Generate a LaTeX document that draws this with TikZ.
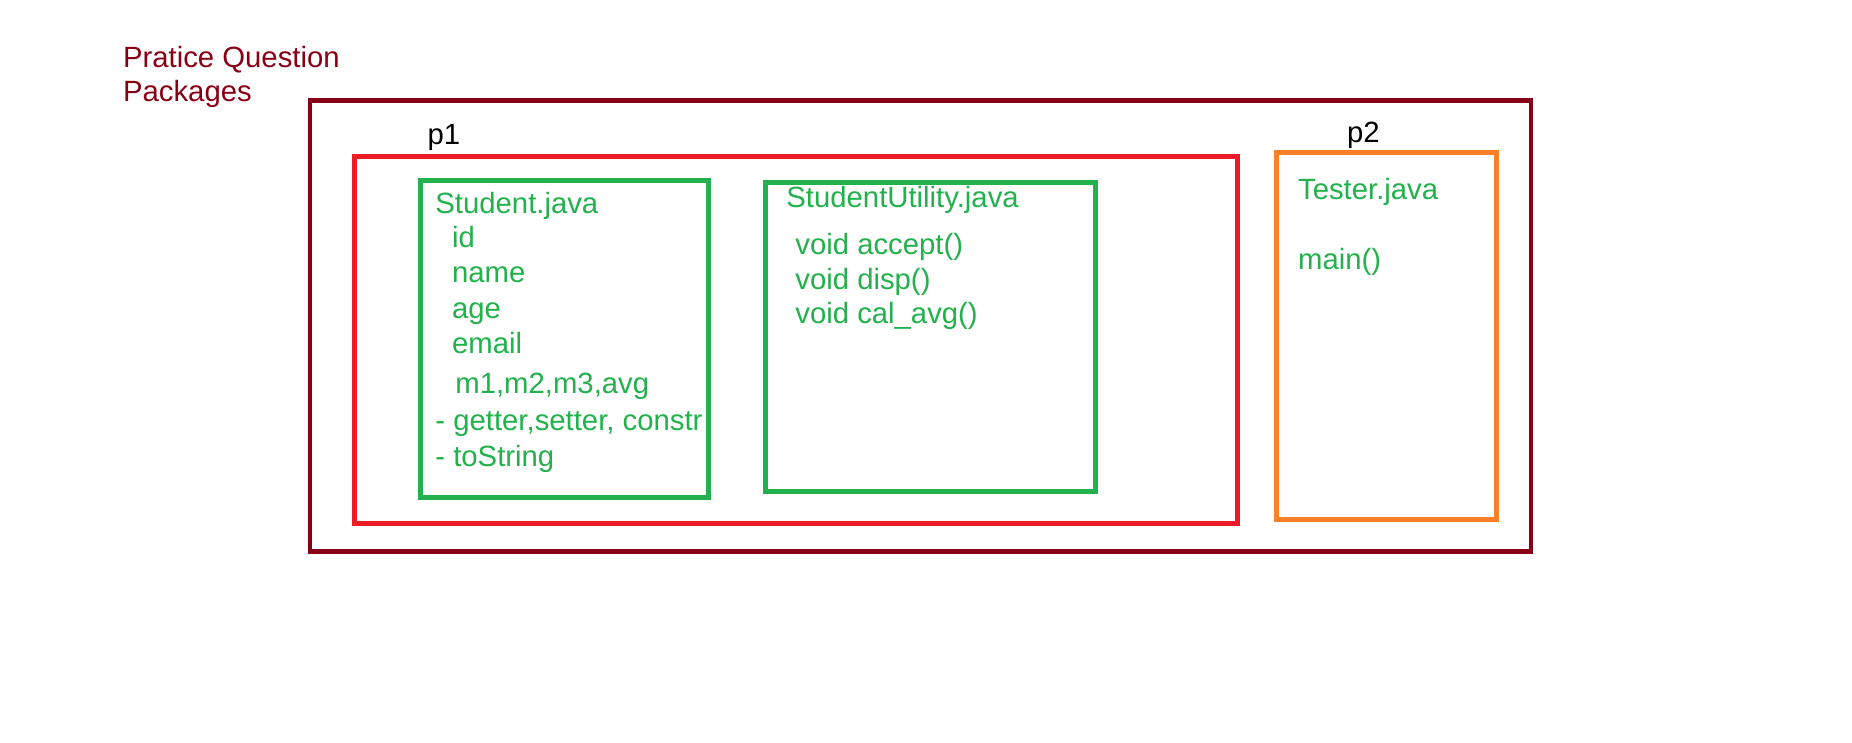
\documentclass[tikz,border=0pt]{standalone}
\usepackage{fontspec}
\setmainfont{Liberation Sans}
\definecolor{pkgdark}{RGB}{136,0,21}
\definecolor{pkgred}{RGB}{237,28,36}
\definecolor{pkggreen}{RGB}{34,177,76}
\definecolor{pkgorange}{RGB}{255,127,39}
\tikzset{
  outerbox/.style={draw=pkgdark,line width=2.35pt},
  redbox/.style={draw=pkgred,line width=2.35pt},
  greenbox/.style={draw=pkggreen,line width=2.5pt},
  orangebox/.style={draw=pkgorange,line width=2.5pt},
  lbl/.style={anchor=base west,inner sep=0pt,font=\fontsize{14.65pt}{17pt}\selectfont},
  gtxt/.style={lbl,text=pkggreen},
  ttxt/.style={lbl,text=pkgdark},
  ktxt/.style={lbl,text=black}
}
\begin{document}
\begin{tikzpicture}[x=0.5pt,y=-0.5pt]
\useasboundingbox[fill=white] (0,0) rectangle (1852,743);
% boxes
\draw[outerbox] (310,100.5) rectangle (1531,551.3);
\draw[redbox] (354.5,156.7) rectangle (1237.3,523.3);
\draw[greenbox] (420,181) rectangle (708.5,497);
\draw[greenbox] (765,182.5) rectangle (1095.3,491.3);
\draw[orangebox] (1276.5,152.5) rectangle (1496.5,519.3);
% title
\node[ttxt] (t1) at (122.7,67.7) {Pratice Question};
\node[ttxt] (t2) at (122.7,101.7) {Packages};
% package labels
\node[ktxt] (p1) at (427.3,145) {p1};
\node[ktxt] (p2) at (1346.7,142.3) {p2};
% Student.java
\node[gtxt] (s0) at (435,213.3) {Student.java};
\node[gtxt] (s1) at (451.7,247.7) {id};
\node[gtxt] (s2) at (451.7,282.7) {name};
\node[gtxt] (s3) at (451.7,318) {age};
\node[gtxt] (s4) at (451.7,353.3) {email};
\node[gtxt] (s5) at (455,393.3) {m1,m2,m3,avg};
\node[gtxt] (s6) at (435,430.7) {- getter,setter, constr};
\node[gtxt] (s7) at (435,466) {- toString};
% StudentUtility.java
\node[gtxt] (u0) at (786,207.7) {StudentUtility.java};
\node[gtxt] (u1) at (795,254.3) {void accept()};
\node[gtxt] (u2) at (795,289.3) {void disp()};
\node[gtxt] (u3) at (795,323.3) {void cal\_avg()};
% Tester.java
\node[gtxt] (r0) at (1297.7,200) {Tester.java};
\node[gtxt] (r1) at (1297.7,269.3) {main()};
\end{tikzpicture}
\end{document}
